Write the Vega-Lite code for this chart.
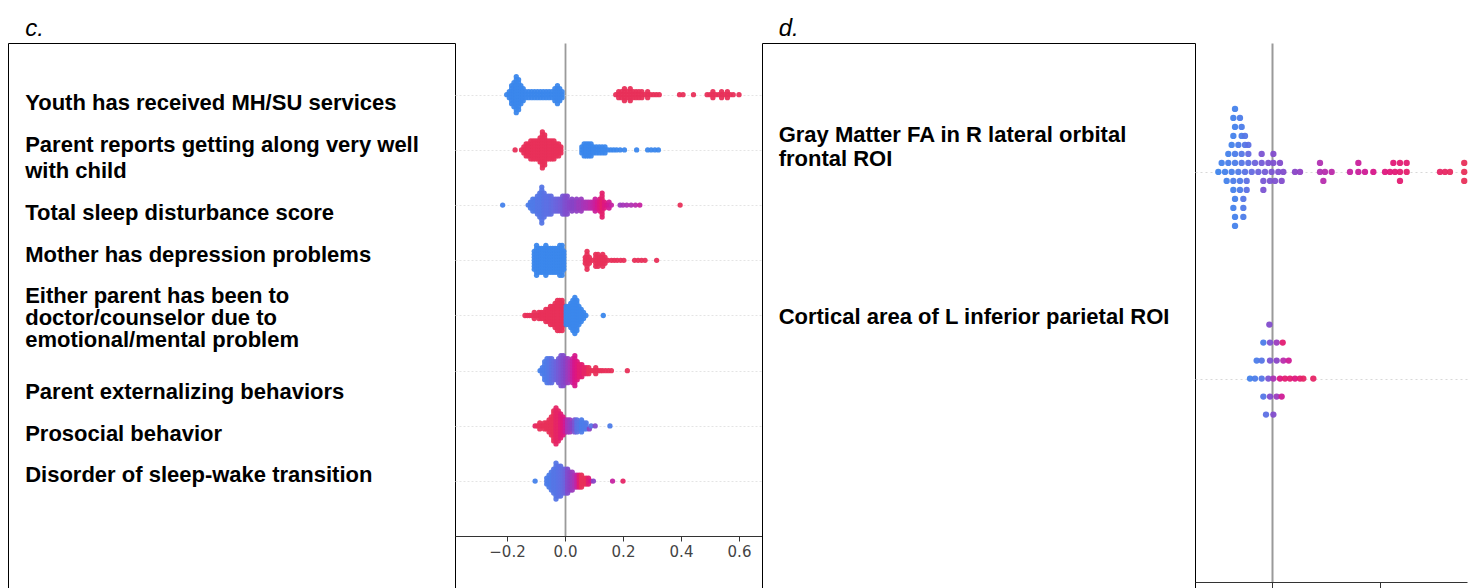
{
"$schema":"https://vega.github.io/schema/vega-lite/v6.json",
"background":"white",
"padding":{"left":8,"top":17,"right":0,"bottom":0},
"config":{"view":{"stroke":null},"font":"Liberation Sans"},
"spacing":0,
"hconcat":[
{
 "width":447,"height":547,
 "layer":[
  {"data":{"values":[
{"t":"Youth has received MH/SU services","u":0},
{"t":"Parent reports getting along very well","u":1.0},
{"t":"with child","u":1.619},
{"t":"Total sleep disturbance score","u":2.62},
{"t":"Mother has depression problems","u":3.62},
{"t":"Either parent has been to","u":4.6},
{"t":"doctor/counselor due to","u":5.12},
{"t":"emotional/mental problem","u":5.643},
{"t":"Parent externalizing behaviors","u":6.88},
{"t":"Prosocial behavior","u":7.88},
{"t":"Disorder of sleep-wake transition","u":8.86}
   ]},
   "mark":{"type":"text","align":"left","baseline":"middle","font":"Liberation Sans","fontWeight":"bold","fontSize":22,"color":"black"},
   "encoding":{
    "x":{"datum":0,"type":"quantitative","scale":{"domain":[-0.04,1],"nice":false,"zero":false},"axis":{"orient":"top","domainColor":"black","ticks":false,"labels":false,"grid":false,"title":null}},
    "y":{"field":"u","type":"quantitative","scale":{"domain":[-1.4286,11.595],"reverse":true,"nice":false,"zero":false},"axis":{"orient":"left","domainColor":"black","ticks":false,"labels":false,"grid":false,"title":null}},
    "text":{"field":"t"}}},
  {"data":{"values":[{"t":"c.","u":-1.595}]},
   "mark":{"type":"text","align":"left","baseline":"alphabetic","font":"Liberation Sans","fontStyle":"italic","fontSize":24,"color":"black"},
   "encoding":{
    "x":{"datum":0,"type":"quantitative"},
    "y":{"field":"u","type":"quantitative","axis":{"orient":"right","domainColor":"black","ticks":false,"labels":false,"grid":false,"title":null}},
    "text":{"field":"t"}}}
 ],
 "resolve":{"axis":{"y":"independent"}}
},
{
 "width":307,"height":493,
 "data":{"values":[
{"f":"c1","v":-0.201,"k":0,"c":0},
{"f":"c1","v":-0.192,"k":-1,"c":0},{"f":"c1","v":-0.192,"k":0,"c":0},{"f":"c1","v":-0.192,"k":1,"c":0},
{"f":"c1","v":-0.184,"k":-3,"c":0},{"f":"c1","v":-0.184,"k":-2,"c":0},{"f":"c1","v":-0.184,"k":-1,"c":0},{"f":"c1","v":-0.184,"k":0,"c":0},{"f":"c1","v":-0.184,"k":1,"c":0},{"f":"c1","v":-0.184,"k":2,"c":0},{"f":"c1","v":-0.184,"k":3,"c":0},
{"f":"c1","v":-0.176,"k":-4,"c":0},{"f":"c1","v":-0.176,"k":-3,"c":0},{"f":"c1","v":-0.176,"k":-2,"c":0},{"f":"c1","v":-0.176,"k":-1,"c":0},{"f":"c1","v":-0.176,"k":0,"c":0},{"f":"c1","v":-0.176,"k":1,"c":0},{"f":"c1","v":-0.176,"k":2,"c":0},{"f":"c1","v":-0.176,"k":3,"c":0},{"f":"c1","v":-0.176,"k":4,"c":0},
{"f":"c1","v":-0.168,"k":-6,"c":0},{"f":"c1","v":-0.168,"k":-5,"c":0},{"f":"c1","v":-0.168,"k":-4,"c":0},{"f":"c1","v":-0.168,"k":-3,"c":0},{"f":"c1","v":-0.168,"k":-2,"c":0},{"f":"c1","v":-0.168,"k":-1,"c":0},{"f":"c1","v":-0.168,"k":0,"c":0},{"f":"c1","v":-0.168,"k":1,"c":0},{"f":"c1","v":-0.168,"k":2,"c":0},{"f":"c1","v":-0.168,"k":3,"c":0},{"f":"c1","v":-0.168,"k":4,"c":0},{"f":"c1","v":-0.168,"k":5,"c":0},{"f":"c1","v":-0.168,"k":6,"c":0},
{"f":"c1","v":-0.160,"k":-5,"c":0},{"f":"c1","v":-0.160,"k":-4,"c":0},{"f":"c1","v":-0.160,"k":-3,"c":0},{"f":"c1","v":-0.160,"k":-2,"c":0},{"f":"c1","v":-0.160,"k":-1,"c":0},{"f":"c1","v":-0.160,"k":0,"c":0},{"f":"c1","v":-0.160,"k":1,"c":0},{"f":"c1","v":-0.160,"k":2,"c":0},{"f":"c1","v":-0.160,"k":3,"c":0},{"f":"c1","v":-0.160,"k":4,"c":0},{"f":"c1","v":-0.160,"k":5,"c":0},
{"f":"c1","v":-0.152,"k":-3,"c":0},{"f":"c1","v":-0.152,"k":-2,"c":0},{"f":"c1","v":-0.152,"k":-1,"c":0},{"f":"c1","v":-0.152,"k":0,"c":0},{"f":"c1","v":-0.152,"k":1,"c":0},{"f":"c1","v":-0.152,"k":2,"c":0},{"f":"c1","v":-0.152,"k":3,"c":0},
{"f":"c1","v":-0.144,"k":-2,"c":0},{"f":"c1","v":-0.144,"k":-1,"c":0},{"f":"c1","v":-0.144,"k":0,"c":0},{"f":"c1","v":-0.144,"k":1,"c":0},{"f":"c1","v":-0.144,"k":2,"c":0},
{"f":"c1","v":-0.135,"k":-1,"c":0},{"f":"c1","v":-0.135,"k":0,"c":0},{"f":"c1","v":-0.135,"k":1,"c":0},
{"f":"c1","v":-0.125,"k":-1,"c":0},{"f":"c1","v":-0.125,"k":0,"c":0},{"f":"c1","v":-0.125,"k":1,"c":0},
{"f":"c1","v":-0.115,"k":-1,"c":0},{"f":"c1","v":-0.115,"k":0,"c":0},{"f":"c1","v":-0.115,"k":1,"c":0},
{"f":"c1","v":-0.105,"k":-1,"c":0},{"f":"c1","v":-0.105,"k":0,"c":0},{"f":"c1","v":-0.105,"k":1,"c":0},
{"f":"c1","v":-0.095,"k":-1,"c":0},{"f":"c1","v":-0.095,"k":0,"c":0},{"f":"c1","v":-0.095,"k":1,"c":0},
{"f":"c1","v":-0.085,"k":-1,"c":0},{"f":"c1","v":-0.085,"k":0,"c":0},{"f":"c1","v":-0.085,"k":1,"c":0},
{"f":"c1","v":-0.075,"k":-1,"c":0},{"f":"c1","v":-0.075,"k":0,"c":0},{"f":"c1","v":-0.075,"k":1,"c":0},
{"f":"c1","v":-0.065,"k":-1,"c":0},{"f":"c1","v":-0.065,"k":0,"c":0},{"f":"c1","v":-0.065,"k":1,"c":0},
{"f":"c1","v":-0.055,"k":-1,"c":0},{"f":"c1","v":-0.055,"k":0,"c":0},{"f":"c1","v":-0.055,"k":1,"c":0},
{"f":"c1","v":-0.045,"k":-1,"c":0},{"f":"c1","v":-0.045,"k":0,"c":0},{"f":"c1","v":-0.045,"k":1,"c":0},
{"f":"c1","v":-0.035,"k":-2,"c":0},{"f":"c1","v":-0.035,"k":-1,"c":0},{"f":"c1","v":-0.035,"k":0,"c":0},{"f":"c1","v":-0.035,"k":1,"c":0},{"f":"c1","v":-0.035,"k":2,"c":0},
{"f":"c1","v":-0.026,"k":-3,"c":0},{"f":"c1","v":-0.026,"k":-2,"c":0},{"f":"c1","v":-0.026,"k":-1,"c":0},{"f":"c1","v":-0.026,"k":0,"c":0},{"f":"c1","v":-0.026,"k":1,"c":0},{"f":"c1","v":-0.026,"k":2,"c":0},{"f":"c1","v":-0.026,"k":3,"c":0},
{"f":"c1","v":-0.018,"k":-2,"c":0},{"f":"c1","v":-0.018,"k":-1,"c":0},{"f":"c1","v":-0.018,"k":0,"c":0},{"f":"c1","v":-0.018,"k":1,"c":0},{"f":"c1","v":-0.018,"k":2,"c":0},
{"f":"c1","v":-0.010,"k":-1,"c":0},{"f":"c1","v":-0.010,"k":0,"c":0},{"f":"c1","v":-0.010,"k":1,"c":0},
{"f":"c1","v":0.175,"k":0,"c":1},
{"f":"c1","v":0.185,"k":-1,"c":1},{"f":"c1","v":0.185,"k":0,"c":1},{"f":"c1","v":0.185,"k":1,"c":1},
{"f":"c1","v":0.195,"k":-1,"c":1},{"f":"c1","v":0.195,"k":0,"c":1},{"f":"c1","v":0.195,"k":1,"c":1},
{"f":"c1","v":0.205,"k":-2,"c":1},{"f":"c1","v":0.205,"k":-1,"c":1},{"f":"c1","v":0.205,"k":0,"c":1},{"f":"c1","v":0.205,"k":1,"c":1},{"f":"c1","v":0.205,"k":2,"c":1},
{"f":"c1","v":0.215,"k":-1,"c":1},{"f":"c1","v":0.215,"k":0,"c":1},{"f":"c1","v":0.215,"k":1,"c":1},
{"f":"c1","v":0.225,"k":-2,"c":1},{"f":"c1","v":0.225,"k":-1,"c":1},{"f":"c1","v":0.225,"k":0,"c":1},{"f":"c1","v":0.225,"k":1,"c":1},{"f":"c1","v":0.225,"k":2,"c":1},
{"f":"c1","v":0.235,"k":-1,"c":1},{"f":"c1","v":0.235,"k":0,"c":1},{"f":"c1","v":0.235,"k":1,"c":1},
{"f":"c1","v":0.245,"k":-1,"c":1},{"f":"c1","v":0.245,"k":0,"c":1},{"f":"c1","v":0.245,"k":1,"c":1},
{"f":"c1","v":0.255,"k":-1,"c":1},{"f":"c1","v":0.255,"k":0,"c":1},{"f":"c1","v":0.255,"k":1,"c":1},
{"f":"c1","v":0.265,"k":-1,"c":1},{"f":"c1","v":0.265,"k":0,"c":1},{"f":"c1","v":0.265,"k":1,"c":1},
{"f":"c1","v":0.275,"k":0,"c":1},
{"f":"c1","v":0.285,"k":-1,"c":1},{"f":"c1","v":0.285,"k":0,"c":1},{"f":"c1","v":0.285,"k":1,"c":1},
{"f":"c1","v":0.295,"k":0,"c":1},{"f":"c1","v":0.305,"k":0,"c":1},{"f":"c1","v":0.315,"k":0,"c":1},{"f":"c1","v":0.325,"k":0,"c":1},
{"f":"c1","v":0.395,"k":0,"c":1},{"f":"c1","v":0.407,"k":0,"c":1},{"f":"c1","v":0.443,"k":0,"c":1},
{"f":"c1","v":0.490,"k":0,"c":1},{"f":"c1","v":0.500,"k":0,"c":1},
{"f":"c1","v":0.510,"k":-1,"c":1},{"f":"c1","v":0.510,"k":0,"c":1},{"f":"c1","v":0.510,"k":1,"c":1},
{"f":"c1","v":0.520,"k":0,"c":1},{"f":"c1","v":0.530,"k":0,"c":1},
{"f":"c1","v":0.540,"k":-1,"c":1},{"f":"c1","v":0.540,"k":0,"c":1},{"f":"c1","v":0.540,"k":1,"c":1},
{"f":"c1","v":0.550,"k":0,"c":1},
{"f":"c1","v":0.560,"k":-1,"c":1},{"f":"c1","v":0.560,"k":0,"c":1},{"f":"c1","v":0.560,"k":1,"c":1},
{"f":"c1","v":0.570,"k":0,"c":1},{"f":"c1","v":0.580,"k":0,"c":1},{"f":"c1","v":0.600,"k":0,"c":1},
{"f":"c2","v":-0.172,"k":0,"c":1},{"f":"c2","v":-0.150,"k":0,"c":1},
{"f":"c2","v":-0.142,"k":-1,"c":1},{"f":"c2","v":-0.142,"k":0,"c":1},{"f":"c2","v":-0.142,"k":1,"c":1},
{"f":"c2","v":-0.134,"k":-2,"c":1},{"f":"c2","v":-0.134,"k":-1,"c":1},{"f":"c2","v":-0.134,"k":0,"c":1},{"f":"c2","v":-0.134,"k":1,"c":1},{"f":"c2","v":-0.134,"k":2,"c":1},
{"f":"c2","v":-0.126,"k":-2,"c":1},{"f":"c2","v":-0.126,"k":-1,"c":1},{"f":"c2","v":-0.126,"k":0,"c":1},{"f":"c2","v":-0.126,"k":1,"c":1},{"f":"c2","v":-0.126,"k":2,"c":1},
{"f":"c2","v":-0.118,"k":-3,"c":1},{"f":"c2","v":-0.118,"k":-2,"c":1},{"f":"c2","v":-0.118,"k":-1,"c":1},{"f":"c2","v":-0.118,"k":0,"c":1},{"f":"c2","v":-0.118,"k":1,"c":1},{"f":"c2","v":-0.118,"k":2,"c":1},{"f":"c2","v":-0.118,"k":3,"c":1},
{"f":"c2","v":-0.110,"k":-3,"c":1},{"f":"c2","v":-0.110,"k":-2,"c":1},{"f":"c2","v":-0.110,"k":-1,"c":1},{"f":"c2","v":-0.110,"k":0,"c":1},{"f":"c2","v":-0.110,"k":1,"c":1},{"f":"c2","v":-0.110,"k":2,"c":1},{"f":"c2","v":-0.110,"k":3,"c":1},
{"f":"c2","v":-0.102,"k":-3,"c":1},{"f":"c2","v":-0.102,"k":-2,"c":1},{"f":"c2","v":-0.102,"k":-1,"c":1},{"f":"c2","v":-0.102,"k":0,"c":1},{"f":"c2","v":-0.102,"k":1,"c":1},{"f":"c2","v":-0.102,"k":2,"c":1},{"f":"c2","v":-0.102,"k":3,"c":1},
{"f":"c2","v":-0.094,"k":-3,"c":1},{"f":"c2","v":-0.094,"k":-2,"c":1},{"f":"c2","v":-0.094,"k":-1,"c":1},{"f":"c2","v":-0.094,"k":0,"c":1},{"f":"c2","v":-0.094,"k":1,"c":1},{"f":"c2","v":-0.094,"k":2,"c":1},{"f":"c2","v":-0.094,"k":3,"c":1},
{"f":"c2","v":-0.086,"k":-4,"c":1},{"f":"c2","v":-0.086,"k":-3,"c":1},{"f":"c2","v":-0.086,"k":-2,"c":1},{"f":"c2","v":-0.086,"k":-1,"c":1},{"f":"c2","v":-0.086,"k":0,"c":1},{"f":"c2","v":-0.086,"k":1,"c":1},{"f":"c2","v":-0.086,"k":2,"c":1},{"f":"c2","v":-0.086,"k":3,"c":1},{"f":"c2","v":-0.086,"k":4,"c":1},
{"f":"c2","v":-0.078,"k":-6,"c":1},{"f":"c2","v":-0.078,"k":-5,"c":1},{"f":"c2","v":-0.078,"k":-4,"c":1},{"f":"c2","v":-0.078,"k":-3,"c":1},{"f":"c2","v":-0.078,"k":-2,"c":1},{"f":"c2","v":-0.078,"k":-1,"c":1},{"f":"c2","v":-0.078,"k":0,"c":1},{"f":"c2","v":-0.078,"k":1,"c":1},{"f":"c2","v":-0.078,"k":2,"c":1},{"f":"c2","v":-0.078,"k":3,"c":1},{"f":"c2","v":-0.078,"k":4,"c":1},{"f":"c2","v":-0.078,"k":5,"c":1},{"f":"c2","v":-0.078,"k":6,"c":1},
{"f":"c2","v":-0.070,"k":-5,"c":1},{"f":"c2","v":-0.070,"k":-4,"c":1},{"f":"c2","v":-0.070,"k":-3,"c":1},{"f":"c2","v":-0.070,"k":-2,"c":1},{"f":"c2","v":-0.070,"k":-1,"c":1},{"f":"c2","v":-0.070,"k":0,"c":1},{"f":"c2","v":-0.070,"k":1,"c":1},{"f":"c2","v":-0.070,"k":2,"c":1},{"f":"c2","v":-0.070,"k":3,"c":1},{"f":"c2","v":-0.070,"k":4,"c":1},{"f":"c2","v":-0.070,"k":5,"c":1},
{"f":"c2","v":-0.062,"k":-3,"c":1},{"f":"c2","v":-0.062,"k":-2,"c":1},{"f":"c2","v":-0.062,"k":-1,"c":1},{"f":"c2","v":-0.062,"k":0,"c":1},{"f":"c2","v":-0.062,"k":1,"c":1},{"f":"c2","v":-0.062,"k":2,"c":1},{"f":"c2","v":-0.062,"k":3,"c":1},
{"f":"c2","v":-0.054,"k":-3,"c":1},{"f":"c2","v":-0.054,"k":-2,"c":1},{"f":"c2","v":-0.054,"k":-1,"c":1},{"f":"c2","v":-0.054,"k":0,"c":1},{"f":"c2","v":-0.054,"k":1,"c":1},{"f":"c2","v":-0.054,"k":2,"c":1},{"f":"c2","v":-0.054,"k":3,"c":1},
{"f":"c2","v":-0.046,"k":-3,"c":1},{"f":"c2","v":-0.046,"k":-2,"c":1},{"f":"c2","v":-0.046,"k":-1,"c":1},{"f":"c2","v":-0.046,"k":0,"c":1},{"f":"c2","v":-0.046,"k":1,"c":1},{"f":"c2","v":-0.046,"k":2,"c":1},{"f":"c2","v":-0.046,"k":3,"c":1},
{"f":"c2","v":-0.038,"k":-3,"c":1},{"f":"c2","v":-0.038,"k":-2,"c":1},{"f":"c2","v":-0.038,"k":-1,"c":1},{"f":"c2","v":-0.038,"k":0,"c":1},{"f":"c2","v":-0.038,"k":1,"c":1},{"f":"c2","v":-0.038,"k":2,"c":1},{"f":"c2","v":-0.038,"k":3,"c":1},
{"f":"c2","v":-0.030,"k":-2,"c":1},{"f":"c2","v":-0.030,"k":-1,"c":1},{"f":"c2","v":-0.030,"k":0,"c":1},{"f":"c2","v":-0.030,"k":1,"c":1},{"f":"c2","v":-0.030,"k":2,"c":1},
{"f":"c2","v":-0.022,"k":-2,"c":1},{"f":"c2","v":-0.022,"k":-1,"c":1},{"f":"c2","v":-0.022,"k":0,"c":1},{"f":"c2","v":-0.022,"k":1,"c":1},{"f":"c2","v":-0.022,"k":2,"c":1},
{"f":"c2","v":-0.014,"k":-1,"c":1},{"f":"c2","v":-0.014,"k":0,"c":1},{"f":"c2","v":-0.014,"k":1,"c":1},
{"f":"c2","v":0.058,"k":-1,"c":0},{"f":"c2","v":0.058,"k":0,"c":0},{"f":"c2","v":0.058,"k":1,"c":0},
{"f":"c2","v":0.066,"k":-2,"c":0},{"f":"c2","v":0.066,"k":-1,"c":0},{"f":"c2","v":0.066,"k":0,"c":0},{"f":"c2","v":0.066,"k":1,"c":0},{"f":"c2","v":0.066,"k":2,"c":0},
{"f":"c2","v":0.074,"k":-2,"c":0},{"f":"c2","v":0.074,"k":-1,"c":0},{"f":"c2","v":0.074,"k":0,"c":0},{"f":"c2","v":0.074,"k":1,"c":0},{"f":"c2","v":0.074,"k":2,"c":0},
{"f":"c2","v":0.082,"k":-2,"c":0},{"f":"c2","v":0.082,"k":-1,"c":0},{"f":"c2","v":0.082,"k":0,"c":0},{"f":"c2","v":0.082,"k":1,"c":0},{"f":"c2","v":0.082,"k":2,"c":0},
{"f":"c2","v":0.090,"k":-2,"c":0},{"f":"c2","v":0.090,"k":-1,"c":0},{"f":"c2","v":0.090,"k":0,"c":0},{"f":"c2","v":0.090,"k":1,"c":0},{"f":"c2","v":0.090,"k":2,"c":0},
{"f":"c2","v":0.098,"k":-1,"c":0},{"f":"c2","v":0.098,"k":0,"c":0},{"f":"c2","v":0.098,"k":1,"c":0},
{"f":"c2","v":0.108,"k":-1,"c":0},{"f":"c2","v":0.108,"k":0,"c":0},{"f":"c2","v":0.108,"k":1,"c":0},
{"f":"c2","v":0.118,"k":-1,"c":0},{"f":"c2","v":0.118,"k":0,"c":0},{"f":"c2","v":0.118,"k":1,"c":0},
{"f":"c2","v":0.128,"k":-1,"c":0},{"f":"c2","v":0.128,"k":0,"c":0},{"f":"c2","v":0.128,"k":1,"c":0},
{"f":"c2","v":0.138,"k":-1,"c":0},{"f":"c2","v":0.138,"k":0,"c":0},{"f":"c2","v":0.138,"k":1,"c":0},
{"f":"c2","v":0.148,"k":0,"c":0},{"f":"c2","v":0.158,"k":0,"c":0},{"f":"c2","v":0.168,"k":0,"c":0},{"f":"c2","v":0.178,"k":0,"c":0},{"f":"c2","v":0.190,"k":0,"c":0},{"f":"c2","v":0.205,"k":0,"c":0},
{"f":"c2","v":0.247,"k":0,"c":0},{"f":"c2","v":0.285,"k":0,"c":0},{"f":"c2","v":0.297,"k":0,"c":0},{"f":"c2","v":0.310,"k":0,"c":0},{"f":"c2","v":0.322,"k":0,"c":0},
{"f":"c3","v":-0.215,"k":0,"c":0.05},
{"f":"c3","v":-0.127,"k":0,"c":0.1},
{"f":"c3","v":-0.119,"k":-1,"c":0.1},{"f":"c3","v":-0.119,"k":0,"c":0.1},{"f":"c3","v":-0.119,"k":1,"c":0.1},
{"f":"c3","v":-0.111,"k":-2,"c":0.12},{"f":"c3","v":-0.111,"k":-1,"c":0.12},{"f":"c3","v":-0.111,"k":0,"c":0.12},{"f":"c3","v":-0.111,"k":1,"c":0.12},{"f":"c3","v":-0.111,"k":2,"c":0.12},
{"f":"c3","v":-0.103,"k":-2,"c":0.12},{"f":"c3","v":-0.103,"k":-1,"c":0.12},{"f":"c3","v":-0.103,"k":0,"c":0.12},{"f":"c3","v":-0.103,"k":1,"c":0.12},{"f":"c3","v":-0.103,"k":2,"c":0.12},
{"f":"c3","v":-0.095,"k":-3,"c":0.15},{"f":"c3","v":-0.095,"k":-2,"c":0.15},{"f":"c3","v":-0.095,"k":-1,"c":0.15},{"f":"c3","v":-0.095,"k":0,"c":0.15},{"f":"c3","v":-0.095,"k":1,"c":0.15},{"f":"c3","v":-0.095,"k":2,"c":0.15},{"f":"c3","v":-0.095,"k":3,"c":0.15},
{"f":"c3","v":-0.087,"k":-4,"c":0.15},{"f":"c3","v":-0.087,"k":-3,"c":0.15},{"f":"c3","v":-0.087,"k":-2,"c":0.15},{"f":"c3","v":-0.087,"k":-1,"c":0.15},{"f":"c3","v":-0.087,"k":0,"c":0.15},{"f":"c3","v":-0.087,"k":1,"c":0.15},{"f":"c3","v":-0.087,"k":2,"c":0.15},{"f":"c3","v":-0.087,"k":3,"c":0.15},{"f":"c3","v":-0.087,"k":4,"c":0.15},
{"f":"c3","v":-0.080,"k":-6,"c":0.15},{"f":"c3","v":-0.080,"k":-5,"c":0.15},{"f":"c3","v":-0.080,"k":-4,"c":0.15},{"f":"c3","v":-0.080,"k":-3,"c":0.15},{"f":"c3","v":-0.080,"k":-2,"c":0.15},{"f":"c3","v":-0.080,"k":-1,"c":0.15},{"f":"c3","v":-0.080,"k":0,"c":0.15},{"f":"c3","v":-0.080,"k":1,"c":0.15},{"f":"c3","v":-0.080,"k":2,"c":0.15},{"f":"c3","v":-0.080,"k":3,"c":0.15},{"f":"c3","v":-0.080,"k":4,"c":0.15},{"f":"c3","v":-0.080,"k":5,"c":0.15},{"f":"c3","v":-0.080,"k":6,"c":0.15},
{"f":"c3","v":-0.072,"k":-4,"c":0.18},{"f":"c3","v":-0.072,"k":-3,"c":0.18},{"f":"c3","v":-0.072,"k":-2,"c":0.18},{"f":"c3","v":-0.072,"k":-1,"c":0.18},{"f":"c3","v":-0.072,"k":0,"c":0.18},{"f":"c3","v":-0.072,"k":1,"c":0.18},{"f":"c3","v":-0.072,"k":2,"c":0.18},{"f":"c3","v":-0.072,"k":3,"c":0.18},{"f":"c3","v":-0.072,"k":4,"c":0.18},
{"f":"c3","v":-0.064,"k":-3,"c":0.2},{"f":"c3","v":-0.064,"k":-2,"c":0.2},{"f":"c3","v":-0.064,"k":-1,"c":0.2},{"f":"c3","v":-0.064,"k":0,"c":0.2},{"f":"c3","v":-0.064,"k":1,"c":0.2},{"f":"c3","v":-0.064,"k":2,"c":0.2},{"f":"c3","v":-0.064,"k":3,"c":0.2},
{"f":"c3","v":-0.056,"k":-3,"c":0.2},{"f":"c3","v":-0.056,"k":-2,"c":0.2},{"f":"c3","v":-0.056,"k":-1,"c":0.2},{"f":"c3","v":-0.056,"k":0,"c":0.2},{"f":"c3","v":-0.056,"k":1,"c":0.2},{"f":"c3","v":-0.056,"k":2,"c":0.2},{"f":"c3","v":-0.056,"k":3,"c":0.2},
{"f":"c3","v":-0.048,"k":-3,"c":0.22},{"f":"c3","v":-0.048,"k":-2,"c":0.22},{"f":"c3","v":-0.048,"k":-1,"c":0.22},{"f":"c3","v":-0.048,"k":0,"c":0.22},{"f":"c3","v":-0.048,"k":1,"c":0.22},{"f":"c3","v":-0.048,"k":2,"c":0.22},{"f":"c3","v":-0.048,"k":3,"c":0.22},
{"f":"c3","v":-0.040,"k":-2,"c":0.25},{"f":"c3","v":-0.040,"k":-1,"c":0.25},{"f":"c3","v":-0.040,"k":0,"c":0.25},{"f":"c3","v":-0.040,"k":1,"c":0.25},{"f":"c3","v":-0.040,"k":2,"c":0.25},
{"f":"c3","v":-0.032,"k":-2,"c":0.28},{"f":"c3","v":-0.032,"k":-1,"c":0.28},{"f":"c3","v":-0.032,"k":0,"c":0.28},{"f":"c3","v":-0.032,"k":1,"c":0.28},{"f":"c3","v":-0.032,"k":2,"c":0.28},
{"f":"c3","v":-0.024,"k":-2,"c":0.3},{"f":"c3","v":-0.024,"k":-1,"c":0.3},{"f":"c3","v":-0.024,"k":0,"c":0.3},{"f":"c3","v":-0.024,"k":1,"c":0.3},{"f":"c3","v":-0.024,"k":2,"c":0.3},
{"f":"c3","v":-0.016,"k":-2,"c":0.33},{"f":"c3","v":-0.016,"k":-1,"c":0.33},{"f":"c3","v":-0.016,"k":0,"c":0.33},{"f":"c3","v":-0.016,"k":1,"c":0.33},{"f":"c3","v":-0.016,"k":2,"c":0.33},
{"f":"c3","v":-0.008,"k":-3,"c":0.36},{"f":"c3","v":-0.008,"k":-2,"c":0.36},{"f":"c3","v":-0.008,"k":-1,"c":0.36},{"f":"c3","v":-0.008,"k":0,"c":0.36},{"f":"c3","v":-0.008,"k":1,"c":0.36},{"f":"c3","v":-0.008,"k":2,"c":0.36},{"f":"c3","v":-0.008,"k":3,"c":0.36},
{"f":"c3","v":0.000,"k":-3,"c":0.42},{"f":"c3","v":0.000,"k":-2,"c":0.42},{"f":"c3","v":0.000,"k":-1,"c":0.42},{"f":"c3","v":0.000,"k":0,"c":0.42},{"f":"c3","v":0.000,"k":1,"c":0.42},{"f":"c3","v":0.000,"k":2,"c":0.42},{"f":"c3","v":0.000,"k":3,"c":0.42},
{"f":"c3","v":0.008,"k":-3,"c":0.45},{"f":"c3","v":0.008,"k":-2,"c":0.45},{"f":"c3","v":0.008,"k":-1,"c":0.45},{"f":"c3","v":0.008,"k":0,"c":0.45},{"f":"c3","v":0.008,"k":1,"c":0.45},{"f":"c3","v":0.008,"k":2,"c":0.45},{"f":"c3","v":0.008,"k":3,"c":0.45},
{"f":"c3","v":0.016,"k":-1,"c":0.48},{"f":"c3","v":0.016,"k":0,"c":0.48},{"f":"c3","v":0.016,"k":1,"c":0.48},
{"f":"c3","v":0.024,"k":-2,"c":0.5},{"f":"c3","v":0.024,"k":-1,"c":0.5},{"f":"c3","v":0.024,"k":0,"c":0.5},{"f":"c3","v":0.024,"k":1,"c":0.5},{"f":"c3","v":0.024,"k":2,"c":0.5},
{"f":"c3","v":0.032,"k":-1,"c":0.5},{"f":"c3","v":0.032,"k":0,"c":0.5},{"f":"c3","v":0.032,"k":1,"c":0.5},
{"f":"c3","v":0.040,"k":-2,"c":0.52},{"f":"c3","v":0.040,"k":-1,"c":0.52},{"f":"c3","v":0.040,"k":0,"c":0.52},{"f":"c3","v":0.040,"k":1,"c":0.52},{"f":"c3","v":0.040,"k":2,"c":0.52},
{"f":"c3","v":0.048,"k":-1,"c":0.55},{"f":"c3","v":0.048,"k":0,"c":0.55},{"f":"c3","v":0.048,"k":1,"c":0.55},
{"f":"c3","v":0.056,"k":-2,"c":0.55},{"f":"c3","v":0.056,"k":-1,"c":0.55},{"f":"c3","v":0.056,"k":0,"c":0.55},{"f":"c3","v":0.056,"k":1,"c":0.55},{"f":"c3","v":0.056,"k":2,"c":0.55},
{"f":"c3","v":0.064,"k":-1,"c":0.58},{"f":"c3","v":0.064,"k":0,"c":0.58},{"f":"c3","v":0.064,"k":1,"c":0.58},
{"f":"c3","v":0.072,"k":-1,"c":0.6},{"f":"c3","v":0.072,"k":0,"c":0.6},{"f":"c3","v":0.072,"k":1,"c":0.6},
{"f":"c3","v":0.080,"k":-1,"c":0.62},{"f":"c3","v":0.080,"k":0,"c":0.62},{"f":"c3","v":0.080,"k":1,"c":0.62},
{"f":"c3","v":0.088,"k":-1,"c":0.65},{"f":"c3","v":0.088,"k":0,"c":0.65},{"f":"c3","v":0.088,"k":1,"c":0.65},
{"f":"c3","v":0.096,"k":-1,"c":0.68},{"f":"c3","v":0.096,"k":0,"c":0.68},{"f":"c3","v":0.096,"k":1,"c":0.68},
{"f":"c3","v":0.104,"k":-2,"c":0.72},{"f":"c3","v":0.104,"k":-1,"c":0.72},{"f":"c3","v":0.104,"k":0,"c":0.72},{"f":"c3","v":0.104,"k":1,"c":0.72},{"f":"c3","v":0.104,"k":2,"c":0.72},
{"f":"c3","v":0.112,"k":-1,"c":0.78},{"f":"c3","v":0.112,"k":0,"c":0.78},{"f":"c3","v":0.112,"k":1,"c":0.78},
{"f":"c3","v":0.120,"k":-2,"c":0.85},{"f":"c3","v":0.120,"k":-1,"c":0.85},{"f":"c3","v":0.120,"k":0,"c":0.85},{"f":"c3","v":0.120,"k":1,"c":0.85},{"f":"c3","v":0.120,"k":2,"c":0.85},
{"f":"c3","v":0.128,"k":-4,"c":0.92},{"f":"c3","v":0.128,"k":-3,"c":0.92},{"f":"c3","v":0.128,"k":-2,"c":0.92},{"f":"c3","v":0.128,"k":-1,"c":0.92},{"f":"c3","v":0.128,"k":0,"c":0.92},{"f":"c3","v":0.128,"k":1,"c":0.92},{"f":"c3","v":0.128,"k":2,"c":0.92},{"f":"c3","v":0.128,"k":3,"c":0.92},{"f":"c3","v":0.128,"k":4,"c":0.92},
{"f":"c3","v":0.136,"k":-1,"c":0.85},{"f":"c3","v":0.136,"k":0,"c":0.85},{"f":"c3","v":0.136,"k":1,"c":0.85},
{"f":"c3","v":0.144,"k":0,"c":0.8},
{"f":"c3","v":0.152,"k":-1,"c":0.75},{"f":"c3","v":0.152,"k":0,"c":0.75},{"f":"c3","v":0.152,"k":1,"c":0.75},
{"f":"c3","v":0.160,"k":0,"c":0.7},
{"f":"c3","v":0.190,"k":0,"c":0.55},{"f":"c3","v":0.200,"k":0,"c":0.58},{"f":"c3","v":0.213,"k":0,"c":0.6},{"f":"c3","v":0.228,"k":0,"c":0.62},{"f":"c3","v":0.243,"k":0,"c":0.65},{"f":"c3","v":0.258,"k":0,"c":0.7},
{"f":"c3","v":0.397,"k":0,"c":1},
{"f":"c4","v":-0.106,"k":-3,"c":0},{"f":"c4","v":-0.106,"k":-2,"c":0},{"f":"c4","v":-0.106,"k":-1,"c":0},{"f":"c4","v":-0.106,"k":0,"c":0},{"f":"c4","v":-0.106,"k":1,"c":0},{"f":"c4","v":-0.106,"k":2,"c":0},{"f":"c4","v":-0.106,"k":3,"c":0},
{"f":"c4","v":-0.098,"k":-5,"c":0},{"f":"c4","v":-0.098,"k":-4,"c":0},{"f":"c4","v":-0.098,"k":-3,"c":0},{"f":"c4","v":-0.098,"k":-2,"c":0},{"f":"c4","v":-0.098,"k":-1,"c":0},{"f":"c4","v":-0.098,"k":0,"c":0},{"f":"c4","v":-0.098,"k":1,"c":0},{"f":"c4","v":-0.098,"k":2,"c":0},{"f":"c4","v":-0.098,"k":3,"c":0},{"f":"c4","v":-0.098,"k":4,"c":0},{"f":"c4","v":-0.098,"k":5,"c":0},
{"f":"c4","v":-0.090,"k":-4,"c":0},{"f":"c4","v":-0.090,"k":-3,"c":0},{"f":"c4","v":-0.090,"k":-2,"c":0},{"f":"c4","v":-0.090,"k":-1,"c":0},{"f":"c4","v":-0.090,"k":0,"c":0},{"f":"c4","v":-0.090,"k":1,"c":0},{"f":"c4","v":-0.090,"k":2,"c":0},{"f":"c4","v":-0.090,"k":3,"c":0},{"f":"c4","v":-0.090,"k":4,"c":0},
{"f":"c4","v":-0.082,"k":-4,"c":0},{"f":"c4","v":-0.082,"k":-3,"c":0},{"f":"c4","v":-0.082,"k":-2,"c":0},{"f":"c4","v":-0.082,"k":-1,"c":0},{"f":"c4","v":-0.082,"k":0,"c":0},{"f":"c4","v":-0.082,"k":1,"c":0},{"f":"c4","v":-0.082,"k":2,"c":0},{"f":"c4","v":-0.082,"k":3,"c":0},{"f":"c4","v":-0.082,"k":4,"c":0},
{"f":"c4","v":-0.074,"k":-4,"c":0},{"f":"c4","v":-0.074,"k":-3,"c":0},{"f":"c4","v":-0.074,"k":-2,"c":0},{"f":"c4","v":-0.074,"k":-1,"c":0},{"f":"c4","v":-0.074,"k":0,"c":0},{"f":"c4","v":-0.074,"k":1,"c":0},{"f":"c4","v":-0.074,"k":2,"c":0},{"f":"c4","v":-0.074,"k":3,"c":0},{"f":"c4","v":-0.074,"k":4,"c":0},
{"f":"c4","v":-0.066,"k":-5,"c":0},{"f":"c4","v":-0.066,"k":-4,"c":0},{"f":"c4","v":-0.066,"k":-3,"c":0},{"f":"c4","v":-0.066,"k":-2,"c":0},{"f":"c4","v":-0.066,"k":-1,"c":0},{"f":"c4","v":-0.066,"k":0,"c":0},{"f":"c4","v":-0.066,"k":1,"c":0},{"f":"c4","v":-0.066,"k":2,"c":0},{"f":"c4","v":-0.066,"k":3,"c":0},{"f":"c4","v":-0.066,"k":4,"c":0},{"f":"c4","v":-0.066,"k":5,"c":0},
{"f":"c4","v":-0.058,"k":-4,"c":0},{"f":"c4","v":-0.058,"k":-3,"c":0},{"f":"c4","v":-0.058,"k":-2,"c":0},{"f":"c4","v":-0.058,"k":-1,"c":0},{"f":"c4","v":-0.058,"k":0,"c":0},{"f":"c4","v":-0.058,"k":1,"c":0},{"f":"c4","v":-0.058,"k":2,"c":0},{"f":"c4","v":-0.058,"k":3,"c":0},{"f":"c4","v":-0.058,"k":4,"c":0},
{"f":"c4","v":-0.050,"k":-4,"c":0},{"f":"c4","v":-0.050,"k":-3,"c":0},{"f":"c4","v":-0.050,"k":-2,"c":0},{"f":"c4","v":-0.050,"k":-1,"c":0},{"f":"c4","v":-0.050,"k":0,"c":0},{"f":"c4","v":-0.050,"k":1,"c":0},{"f":"c4","v":-0.050,"k":2,"c":0},{"f":"c4","v":-0.050,"k":3,"c":0},{"f":"c4","v":-0.050,"k":4,"c":0},
{"f":"c4","v":-0.042,"k":-4,"c":0},{"f":"c4","v":-0.042,"k":-3,"c":0},{"f":"c4","v":-0.042,"k":-2,"c":0},{"f":"c4","v":-0.042,"k":-1,"c":0},{"f":"c4","v":-0.042,"k":0,"c":0},{"f":"c4","v":-0.042,"k":1,"c":0},{"f":"c4","v":-0.042,"k":2,"c":0},{"f":"c4","v":-0.042,"k":3,"c":0},{"f":"c4","v":-0.042,"k":4,"c":0},
{"f":"c4","v":-0.034,"k":-4,"c":0},{"f":"c4","v":-0.034,"k":-3,"c":0},{"f":"c4","v":-0.034,"k":-2,"c":0},{"f":"c4","v":-0.034,"k":-1,"c":0},{"f":"c4","v":-0.034,"k":0,"c":0},{"f":"c4","v":-0.034,"k":1,"c":0},{"f":"c4","v":-0.034,"k":2,"c":0},{"f":"c4","v":-0.034,"k":3,"c":0},{"f":"c4","v":-0.034,"k":4,"c":0},
{"f":"c4","v":-0.026,"k":-4,"c":0},{"f":"c4","v":-0.026,"k":-3,"c":0},{"f":"c4","v":-0.026,"k":-2,"c":0},{"f":"c4","v":-0.026,"k":-1,"c":0},{"f":"c4","v":-0.026,"k":0,"c":0},{"f":"c4","v":-0.026,"k":1,"c":0},{"f":"c4","v":-0.026,"k":2,"c":0},{"f":"c4","v":-0.026,"k":3,"c":0},{"f":"c4","v":-0.026,"k":4,"c":0},
{"f":"c4","v":-0.018,"k":-5,"c":0},{"f":"c4","v":-0.018,"k":-4,"c":0},{"f":"c4","v":-0.018,"k":-3,"c":0},{"f":"c4","v":-0.018,"k":-2,"c":0},{"f":"c4","v":-0.018,"k":-1,"c":0},{"f":"c4","v":-0.018,"k":0,"c":0},{"f":"c4","v":-0.018,"k":1,"c":0},{"f":"c4","v":-0.018,"k":2,"c":0},{"f":"c4","v":-0.018,"k":3,"c":0},{"f":"c4","v":-0.018,"k":4,"c":0},{"f":"c4","v":-0.018,"k":5,"c":0},
{"f":"c4","v":-0.010,"k":-5,"c":0},{"f":"c4","v":-0.010,"k":-4,"c":0},{"f":"c4","v":-0.010,"k":-3,"c":0},{"f":"c4","v":-0.010,"k":-2,"c":0},{"f":"c4","v":-0.010,"k":-1,"c":0},{"f":"c4","v":-0.010,"k":0,"c":0},{"f":"c4","v":-0.010,"k":1,"c":0},{"f":"c4","v":-0.010,"k":2,"c":0},{"f":"c4","v":-0.010,"k":3,"c":0},{"f":"c4","v":-0.010,"k":4,"c":0},{"f":"c4","v":-0.010,"k":5,"c":0},
{"f":"c4","v":-0.004,"k":-3,"c":0},{"f":"c4","v":-0.004,"k":-2,"c":0},{"f":"c4","v":-0.004,"k":-1,"c":0},{"f":"c4","v":-0.004,"k":0,"c":0},{"f":"c4","v":-0.004,"k":1,"c":0},{"f":"c4","v":-0.004,"k":2,"c":0},{"f":"c4","v":-0.004,"k":3,"c":0},
{"f":"c4","v":0.070,"k":-1,"c":1},{"f":"c4","v":0.070,"k":0,"c":1},{"f":"c4","v":0.070,"k":1,"c":1},
{"f":"c4","v":0.076,"k":-3,"c":1},{"f":"c4","v":0.076,"k":-2,"c":1},{"f":"c4","v":0.076,"k":-1,"c":1},{"f":"c4","v":0.076,"k":0,"c":1},{"f":"c4","v":0.076,"k":1,"c":1},{"f":"c4","v":0.076,"k":2,"c":1},{"f":"c4","v":0.076,"k":3,"c":1},
{"f":"c4","v":0.084,"k":-1,"c":1},{"f":"c4","v":0.084,"k":0,"c":1},{"f":"c4","v":0.084,"k":1,"c":1},
{"f":"c4","v":0.094,"k":0,"c":1},
{"f":"c4","v":0.106,"k":-2,"c":1},{"f":"c4","v":0.106,"k":-1,"c":1},{"f":"c4","v":0.106,"k":0,"c":1},{"f":"c4","v":0.106,"k":1,"c":1},{"f":"c4","v":0.106,"k":2,"c":1},
{"f":"c4","v":0.114,"k":-2,"c":1},{"f":"c4","v":0.114,"k":-1,"c":1},{"f":"c4","v":0.114,"k":0,"c":1},{"f":"c4","v":0.114,"k":1,"c":1},{"f":"c4","v":0.114,"k":2,"c":1},
{"f":"c4","v":0.122,"k":-1,"c":1},{"f":"c4","v":0.122,"k":0,"c":1},{"f":"c4","v":0.122,"k":1,"c":1},
{"f":"c4","v":0.130,"k":-2,"c":1},{"f":"c4","v":0.130,"k":-1,"c":1},{"f":"c4","v":0.130,"k":0,"c":1},{"f":"c4","v":0.130,"k":1,"c":1},{"f":"c4","v":0.130,"k":2,"c":1},
{"f":"c4","v":0.138,"k":-1,"c":1},{"f":"c4","v":0.138,"k":0,"c":1},{"f":"c4","v":0.138,"k":1,"c":1},
{"f":"c4","v":0.148,"k":0,"c":1},{"f":"c4","v":0.160,"k":0,"c":1},{"f":"c4","v":0.170,"k":0,"c":1},{"f":"c4","v":0.180,"k":0,"c":1},{"f":"c4","v":0.192,"k":0,"c":1},{"f":"c4","v":0.203,"k":0,"c":1},
{"f":"c4","v":0.240,"k":0,"c":1},{"f":"c4","v":0.252,"k":0,"c":1},{"f":"c4","v":0.264,"k":0,"c":1},{"f":"c4","v":0.276,"k":0,"c":1},{"f":"c4","v":0.316,"k":0,"c":1},
{"f":"c5","v":-0.138,"k":0,"c":1},{"f":"c5","v":-0.130,"k":0,"c":1},{"f":"c5","v":-0.122,"k":0,"c":1},{"f":"c5","v":-0.114,"k":0,"c":1},
{"f":"c5","v":-0.106,"k":-1,"c":1},{"f":"c5","v":-0.106,"k":0,"c":1},{"f":"c5","v":-0.106,"k":1,"c":1},
{"f":"c5","v":-0.098,"k":0,"c":1},
{"f":"c5","v":-0.090,"k":-1,"c":1},{"f":"c5","v":-0.090,"k":0,"c":1},{"f":"c5","v":-0.090,"k":1,"c":1},
{"f":"c5","v":-0.082,"k":-1,"c":1},{"f":"c5","v":-0.082,"k":0,"c":1},{"f":"c5","v":-0.082,"k":1,"c":1},
{"f":"c5","v":-0.074,"k":-1,"c":1},{"f":"c5","v":-0.074,"k":0,"c":1},{"f":"c5","v":-0.074,"k":1,"c":1},
{"f":"c5","v":-0.066,"k":-2,"c":1},{"f":"c5","v":-0.066,"k":-1,"c":1},{"f":"c5","v":-0.066,"k":0,"c":1},{"f":"c5","v":-0.066,"k":1,"c":1},{"f":"c5","v":-0.066,"k":2,"c":1},
{"f":"c5","v":-0.058,"k":-2,"c":1},{"f":"c5","v":-0.058,"k":-1,"c":1},{"f":"c5","v":-0.058,"k":0,"c":1},{"f":"c5","v":-0.058,"k":1,"c":1},{"f":"c5","v":-0.058,"k":2,"c":1},
{"f":"c5","v":-0.050,"k":-3,"c":1},{"f":"c5","v":-0.050,"k":-2,"c":1},{"f":"c5","v":-0.050,"k":-1,"c":1},{"f":"c5","v":-0.050,"k":0,"c":1},{"f":"c5","v":-0.050,"k":1,"c":1},{"f":"c5","v":-0.050,"k":2,"c":1},{"f":"c5","v":-0.050,"k":3,"c":1},
{"f":"c5","v":-0.042,"k":-3,"c":1},{"f":"c5","v":-0.042,"k":-2,"c":1},{"f":"c5","v":-0.042,"k":-1,"c":1},{"f":"c5","v":-0.042,"k":0,"c":1},{"f":"c5","v":-0.042,"k":1,"c":1},{"f":"c5","v":-0.042,"k":2,"c":1},{"f":"c5","v":-0.042,"k":3,"c":1},
{"f":"c5","v":-0.034,"k":-4,"c":1},{"f":"c5","v":-0.034,"k":-3,"c":1},{"f":"c5","v":-0.034,"k":-2,"c":1},{"f":"c5","v":-0.034,"k":-1,"c":1},{"f":"c5","v":-0.034,"k":0,"c":1},{"f":"c5","v":-0.034,"k":1,"c":1},{"f":"c5","v":-0.034,"k":2,"c":1},{"f":"c5","v":-0.034,"k":3,"c":1},{"f":"c5","v":-0.034,"k":4,"c":1},
{"f":"c5","v":-0.026,"k":-5,"c":1},{"f":"c5","v":-0.026,"k":-4,"c":1},{"f":"c5","v":-0.026,"k":-3,"c":1},{"f":"c5","v":-0.026,"k":-2,"c":1},{"f":"c5","v":-0.026,"k":-1,"c":1},{"f":"c5","v":-0.026,"k":0,"c":1},{"f":"c5","v":-0.026,"k":1,"c":1},{"f":"c5","v":-0.026,"k":2,"c":1},{"f":"c5","v":-0.026,"k":3,"c":1},{"f":"c5","v":-0.026,"k":4,"c":1},{"f":"c5","v":-0.026,"k":5,"c":1},
{"f":"c5","v":-0.018,"k":-5,"c":1},{"f":"c5","v":-0.018,"k":-4,"c":1},{"f":"c5","v":-0.018,"k":-3,"c":1},{"f":"c5","v":-0.018,"k":-2,"c":1},{"f":"c5","v":-0.018,"k":-1,"c":1},{"f":"c5","v":-0.018,"k":0,"c":1},{"f":"c5","v":-0.018,"k":1,"c":1},{"f":"c5","v":-0.018,"k":2,"c":1},{"f":"c5","v":-0.018,"k":3,"c":1},{"f":"c5","v":-0.018,"k":4,"c":1},{"f":"c5","v":-0.018,"k":5,"c":1},
{"f":"c5","v":-0.010,"k":-5,"c":1},{"f":"c5","v":-0.010,"k":-4,"c":1},{"f":"c5","v":-0.010,"k":-3,"c":1},{"f":"c5","v":-0.010,"k":-2,"c":1},{"f":"c5","v":-0.010,"k":-1,"c":1},{"f":"c5","v":-0.010,"k":0,"c":1},{"f":"c5","v":-0.010,"k":1,"c":1},{"f":"c5","v":-0.010,"k":2,"c":1},{"f":"c5","v":-0.010,"k":3,"c":1},{"f":"c5","v":-0.010,"k":4,"c":1},{"f":"c5","v":-0.010,"k":5,"c":1},
{"f":"c5","v":-0.004,"k":-3,"c":1},{"f":"c5","v":-0.004,"k":-2,"c":1},{"f":"c5","v":-0.004,"k":-1,"c":1},{"f":"c5","v":-0.004,"k":0,"c":1},{"f":"c5","v":-0.004,"k":1,"c":1},{"f":"c5","v":-0.004,"k":2,"c":1},{"f":"c5","v":-0.004,"k":3,"c":1},
{"f":"c5","v":0.004,"k":-3,"c":0},{"f":"c5","v":0.004,"k":-2,"c":0},{"f":"c5","v":0.004,"k":-1,"c":0},{"f":"c5","v":0.004,"k":0,"c":0},{"f":"c5","v":0.004,"k":1,"c":0},{"f":"c5","v":0.004,"k":2,"c":0},{"f":"c5","v":0.004,"k":3,"c":0},
{"f":"c5","v":0.012,"k":-3,"c":0},{"f":"c5","v":0.012,"k":-2,"c":0},{"f":"c5","v":0.012,"k":-1,"c":0},{"f":"c5","v":0.012,"k":0,"c":0},{"f":"c5","v":0.012,"k":1,"c":0},{"f":"c5","v":0.012,"k":2,"c":0},{"f":"c5","v":0.012,"k":3,"c":0},
{"f":"c5","v":0.020,"k":-4,"c":0},{"f":"c5","v":0.020,"k":-3,"c":0},{"f":"c5","v":0.020,"k":-2,"c":0},{"f":"c5","v":0.020,"k":-1,"c":0},{"f":"c5","v":0.020,"k":0,"c":0},{"f":"c5","v":0.020,"k":1,"c":0},{"f":"c5","v":0.020,"k":2,"c":0},{"f":"c5","v":0.020,"k":3,"c":0},{"f":"c5","v":0.020,"k":4,"c":0},
{"f":"c5","v":0.027,"k":-5,"c":0},{"f":"c5","v":0.027,"k":-4,"c":0},{"f":"c5","v":0.027,"k":-3,"c":0},{"f":"c5","v":0.027,"k":-2,"c":0},{"f":"c5","v":0.027,"k":-1,"c":0},{"f":"c5","v":0.027,"k":0,"c":0},{"f":"c5","v":0.027,"k":1,"c":0},{"f":"c5","v":0.027,"k":2,"c":0},{"f":"c5","v":0.027,"k":3,"c":0},{"f":"c5","v":0.027,"k":4,"c":0},{"f":"c5","v":0.027,"k":5,"c":0},
{"f":"c5","v":0.034,"k":-6,"c":0},{"f":"c5","v":0.034,"k":-5,"c":0},{"f":"c5","v":0.034,"k":-4,"c":0},{"f":"c5","v":0.034,"k":-3,"c":0},{"f":"c5","v":0.034,"k":-2,"c":0},{"f":"c5","v":0.034,"k":-1,"c":0},{"f":"c5","v":0.034,"k":0,"c":0},{"f":"c5","v":0.034,"k":1,"c":0},{"f":"c5","v":0.034,"k":2,"c":0},{"f":"c5","v":0.034,"k":3,"c":0},{"f":"c5","v":0.034,"k":4,"c":0},{"f":"c5","v":0.034,"k":5,"c":0},{"f":"c5","v":0.034,"k":6,"c":0},
{"f":"c5","v":0.041,"k":-5,"c":0},{"f":"c5","v":0.041,"k":-4,"c":0},{"f":"c5","v":0.041,"k":-3,"c":0},{"f":"c5","v":0.041,"k":-2,"c":0},{"f":"c5","v":0.041,"k":-1,"c":0},{"f":"c5","v":0.041,"k":0,"c":0},{"f":"c5","v":0.041,"k":1,"c":0},{"f":"c5","v":0.041,"k":2,"c":0},{"f":"c5","v":0.041,"k":3,"c":0},{"f":"c5","v":0.041,"k":4,"c":0},{"f":"c5","v":0.041,"k":5,"c":0},
{"f":"c5","v":0.048,"k":-3,"c":0},{"f":"c5","v":0.048,"k":-2,"c":0},{"f":"c5","v":0.048,"k":-1,"c":0},{"f":"c5","v":0.048,"k":0,"c":0},{"f":"c5","v":0.048,"k":1,"c":0},{"f":"c5","v":0.048,"k":2,"c":0},{"f":"c5","v":0.048,"k":3,"c":0},
{"f":"c5","v":0.056,"k":-2,"c":0},{"f":"c5","v":0.056,"k":-1,"c":0},{"f":"c5","v":0.056,"k":0,"c":0},{"f":"c5","v":0.056,"k":1,"c":0},{"f":"c5","v":0.056,"k":2,"c":0},
{"f":"c5","v":0.064,"k":-1,"c":0},{"f":"c5","v":0.064,"k":0,"c":0},{"f":"c5","v":0.064,"k":1,"c":0},
{"f":"c5","v":0.072,"k":0,"c":0},{"f":"c5","v":0.132,"k":0,"c":0},
{"f":"c6","v":-0.086,"k":0,"c":0.05},
{"f":"c6","v":-0.078,"k":-1,"c":0.1},{"f":"c6","v":-0.078,"k":0,"c":0.1},{"f":"c6","v":-0.078,"k":1,"c":0.1},
{"f":"c6","v":-0.070,"k":-3,"c":0.1},{"f":"c6","v":-0.070,"k":-2,"c":0.1},{"f":"c6","v":-0.070,"k":-1,"c":0.1},{"f":"c6","v":-0.070,"k":0,"c":0.1},{"f":"c6","v":-0.070,"k":1,"c":0.1},{"f":"c6","v":-0.070,"k":2,"c":0.1},{"f":"c6","v":-0.070,"k":3,"c":0.1},
{"f":"c6","v":-0.062,"k":-4,"c":0.12},{"f":"c6","v":-0.062,"k":-3,"c":0.12},{"f":"c6","v":-0.062,"k":-2,"c":0.12},{"f":"c6","v":-0.062,"k":-1,"c":0.12},{"f":"c6","v":-0.062,"k":0,"c":0.12},{"f":"c6","v":-0.062,"k":1,"c":0.12},{"f":"c6","v":-0.062,"k":2,"c":0.12},{"f":"c6","v":-0.062,"k":3,"c":0.12},{"f":"c6","v":-0.062,"k":4,"c":0.12},
{"f":"c6","v":-0.054,"k":-4,"c":0.15},{"f":"c6","v":-0.054,"k":-3,"c":0.15},{"f":"c6","v":-0.054,"k":-2,"c":0.15},{"f":"c6","v":-0.054,"k":-1,"c":0.15},{"f":"c6","v":-0.054,"k":0,"c":0.15},{"f":"c6","v":-0.054,"k":1,"c":0.15},{"f":"c6","v":-0.054,"k":2,"c":0.15},{"f":"c6","v":-0.054,"k":3,"c":0.15},{"f":"c6","v":-0.054,"k":4,"c":0.15},
{"f":"c6","v":-0.046,"k":-4,"c":0.2},{"f":"c6","v":-0.046,"k":-3,"c":0.2},{"f":"c6","v":-0.046,"k":-2,"c":0.2},{"f":"c6","v":-0.046,"k":-1,"c":0.2},{"f":"c6","v":-0.046,"k":0,"c":0.2},{"f":"c6","v":-0.046,"k":1,"c":0.2},{"f":"c6","v":-0.046,"k":2,"c":0.2},{"f":"c6","v":-0.046,"k":3,"c":0.2},{"f":"c6","v":-0.046,"k":4,"c":0.2},
{"f":"c6","v":-0.038,"k":-3,"c":0.25},{"f":"c6","v":-0.038,"k":-2,"c":0.25},{"f":"c6","v":-0.038,"k":-1,"c":0.25},{"f":"c6","v":-0.038,"k":0,"c":0.25},{"f":"c6","v":-0.038,"k":1,"c":0.25},{"f":"c6","v":-0.038,"k":2,"c":0.25},{"f":"c6","v":-0.038,"k":3,"c":0.25},
{"f":"c6","v":-0.030,"k":-3,"c":0.3},{"f":"c6","v":-0.030,"k":-2,"c":0.3},{"f":"c6","v":-0.030,"k":-1,"c":0.3},{"f":"c6","v":-0.030,"k":0,"c":0.3},{"f":"c6","v":-0.030,"k":1,"c":0.3},{"f":"c6","v":-0.030,"k":2,"c":0.3},{"f":"c6","v":-0.030,"k":3,"c":0.3},
{"f":"c6","v":-0.022,"k":-4,"c":0.35},{"f":"c6","v":-0.022,"k":-3,"c":0.35},{"f":"c6","v":-0.022,"k":-2,"c":0.35},{"f":"c6","v":-0.022,"k":-1,"c":0.35},{"f":"c6","v":-0.022,"k":0,"c":0.35},{"f":"c6","v":-0.022,"k":1,"c":0.35},{"f":"c6","v":-0.022,"k":2,"c":0.35},{"f":"c6","v":-0.022,"k":3,"c":0.35},{"f":"c6","v":-0.022,"k":4,"c":0.35},
{"f":"c6","v":-0.014,"k":-5,"c":0.4},{"f":"c6","v":-0.014,"k":-4,"c":0.4},{"f":"c6","v":-0.014,"k":-3,"c":0.4},{"f":"c6","v":-0.014,"k":-2,"c":0.4},{"f":"c6","v":-0.014,"k":-1,"c":0.4},{"f":"c6","v":-0.014,"k":0,"c":0.4},{"f":"c6","v":-0.014,"k":1,"c":0.4},{"f":"c6","v":-0.014,"k":2,"c":0.4},{"f":"c6","v":-0.014,"k":3,"c":0.4},{"f":"c6","v":-0.014,"k":4,"c":0.4},{"f":"c6","v":-0.014,"k":5,"c":0.4},
{"f":"c6","v":-0.006,"k":-5,"c":0.45},{"f":"c6","v":-0.006,"k":-4,"c":0.45},{"f":"c6","v":-0.006,"k":-3,"c":0.45},{"f":"c6","v":-0.006,"k":-2,"c":0.45},{"f":"c6","v":-0.006,"k":-1,"c":0.45},{"f":"c6","v":-0.006,"k":0,"c":0.45},{"f":"c6","v":-0.006,"k":1,"c":0.45},{"f":"c6","v":-0.006,"k":2,"c":0.45},{"f":"c6","v":-0.006,"k":3,"c":0.45},{"f":"c6","v":-0.006,"k":4,"c":0.45},{"f":"c6","v":-0.006,"k":5,"c":0.45},
{"f":"c6","v":0.002,"k":-4,"c":0.5},{"f":"c6","v":0.002,"k":-3,"c":0.5},{"f":"c6","v":0.002,"k":-2,"c":0.5},{"f":"c6","v":0.002,"k":-1,"c":0.5},{"f":"c6","v":0.002,"k":0,"c":0.5},{"f":"c6","v":0.002,"k":1,"c":0.5},{"f":"c6","v":0.002,"k":2,"c":0.5},{"f":"c6","v":0.002,"k":3,"c":0.5},{"f":"c6","v":0.002,"k":4,"c":0.5},
{"f":"c6","v":0.010,"k":-4,"c":0.55},{"f":"c6","v":0.010,"k":-3,"c":0.55},{"f":"c6","v":0.010,"k":-2,"c":0.55},{"f":"c6","v":0.010,"k":-1,"c":0.55},{"f":"c6","v":0.010,"k":0,"c":0.55},{"f":"c6","v":0.010,"k":1,"c":0.55},{"f":"c6","v":0.010,"k":2,"c":0.55},{"f":"c6","v":0.010,"k":3,"c":0.55},{"f":"c6","v":0.010,"k":4,"c":0.55},
{"f":"c6","v":0.018,"k":-3,"c":0.6},{"f":"c6","v":0.018,"k":-2,"c":0.6},{"f":"c6","v":0.018,"k":-1,"c":0.6},{"f":"c6","v":0.018,"k":0,"c":0.6},{"f":"c6","v":0.018,"k":1,"c":0.6},{"f":"c6","v":0.018,"k":2,"c":0.6},{"f":"c6","v":0.018,"k":3,"c":0.6},
{"f":"c6","v":0.026,"k":-4,"c":0.7},{"f":"c6","v":0.026,"k":-3,"c":0.7},{"f":"c6","v":0.026,"k":-2,"c":0.7},{"f":"c6","v":0.026,"k":-1,"c":0.7},{"f":"c6","v":0.026,"k":0,"c":0.7},{"f":"c6","v":0.026,"k":1,"c":0.7},{"f":"c6","v":0.026,"k":2,"c":0.7},{"f":"c6","v":0.026,"k":3,"c":0.7},{"f":"c6","v":0.026,"k":4,"c":0.7},
{"f":"c6","v":0.034,"k":-5,"c":0.8},{"f":"c6","v":0.034,"k":-4,"c":0.8},{"f":"c6","v":0.034,"k":-3,"c":0.8},{"f":"c6","v":0.034,"k":-2,"c":0.8},{"f":"c6","v":0.034,"k":-1,"c":0.8},{"f":"c6","v":0.034,"k":0,"c":0.8},{"f":"c6","v":0.034,"k":1,"c":0.8},{"f":"c6","v":0.034,"k":2,"c":0.8},{"f":"c6","v":0.034,"k":3,"c":0.8},{"f":"c6","v":0.034,"k":4,"c":0.8},{"f":"c6","v":0.034,"k":5,"c":0.8},
{"f":"c6","v":0.042,"k":-3,"c":0.85},{"f":"c6","v":0.042,"k":-2,"c":0.85},{"f":"c6","v":0.042,"k":-1,"c":0.85},{"f":"c6","v":0.042,"k":0,"c":0.85},{"f":"c6","v":0.042,"k":1,"c":0.85},{"f":"c6","v":0.042,"k":2,"c":0.85},{"f":"c6","v":0.042,"k":3,"c":0.85},
{"f":"c6","v":0.050,"k":-2,"c":0.9},{"f":"c6","v":0.050,"k":-1,"c":0.9},{"f":"c6","v":0.050,"k":0,"c":0.9},{"f":"c6","v":0.050,"k":1,"c":0.9},{"f":"c6","v":0.050,"k":2,"c":0.9},
{"f":"c6","v":0.058,"k":-2,"c":0.9},{"f":"c6","v":0.058,"k":-1,"c":0.9},{"f":"c6","v":0.058,"k":0,"c":0.9},{"f":"c6","v":0.058,"k":1,"c":0.9},{"f":"c6","v":0.058,"k":2,"c":0.9},
{"f":"c6","v":0.066,"k":-1,"c":0.95},{"f":"c6","v":0.066,"k":0,"c":0.95},{"f":"c6","v":0.066,"k":1,"c":0.95},
{"f":"c6","v":0.074,"k":-1,"c":0.95},{"f":"c6","v":0.074,"k":0,"c":0.95},{"f":"c6","v":0.074,"k":1,"c":0.95},
{"f":"c6","v":0.082,"k":-1,"c":1},{"f":"c6","v":0.082,"k":0,"c":1},{"f":"c6","v":0.082,"k":1,"c":1},
{"f":"c6","v":0.090,"k":0,"c":1},{"f":"c6","v":0.098,"k":0,"c":1},
{"f":"c6","v":0.106,"k":-1,"c":1},{"f":"c6","v":0.106,"k":0,"c":1},{"f":"c6","v":0.106,"k":1,"c":1},
{"f":"c6","v":0.114,"k":0,"c":1},{"f":"c6","v":0.122,"k":0,"c":1},{"f":"c6","v":0.130,"k":0,"c":1},{"f":"c6","v":0.140,"k":0,"c":1},{"f":"c6","v":0.150,"k":0,"c":1},{"f":"c6","v":0.160,"k":0,"c":1},{"f":"c6","v":0.215,"k":0,"c":1},
{"f":"c7","v":-0.103,"k":0,"c":0.95},{"f":"c7","v":-0.095,"k":0,"c":1},
{"f":"c7","v":-0.087,"k":-1,"c":1},{"f":"c7","v":-0.087,"k":0,"c":1},{"f":"c7","v":-0.087,"k":1,"c":1},
{"f":"c7","v":-0.079,"k":0,"c":1},
{"f":"c7","v":-0.071,"k":-1,"c":1},{"f":"c7","v":-0.071,"k":0,"c":1},{"f":"c7","v":-0.071,"k":1,"c":1},
{"f":"c7","v":-0.063,"k":-1,"c":1},{"f":"c7","v":-0.063,"k":0,"c":1},{"f":"c7","v":-0.063,"k":1,"c":1},
{"f":"c7","v":-0.055,"k":-2,"c":1},{"f":"c7","v":-0.055,"k":-1,"c":1},{"f":"c7","v":-0.055,"k":0,"c":1},{"f":"c7","v":-0.055,"k":1,"c":1},{"f":"c7","v":-0.055,"k":2,"c":1},
{"f":"c7","v":-0.047,"k":-3,"c":1},{"f":"c7","v":-0.047,"k":-2,"c":1},{"f":"c7","v":-0.047,"k":-1,"c":1},{"f":"c7","v":-0.047,"k":0,"c":1},{"f":"c7","v":-0.047,"k":1,"c":1},{"f":"c7","v":-0.047,"k":2,"c":1},{"f":"c7","v":-0.047,"k":3,"c":1},
{"f":"c7","v":-0.039,"k":-5,"c":1},{"f":"c7","v":-0.039,"k":-4,"c":1},{"f":"c7","v":-0.039,"k":-3,"c":1},{"f":"c7","v":-0.039,"k":-2,"c":1},{"f":"c7","v":-0.039,"k":-1,"c":1},{"f":"c7","v":-0.039,"k":0,"c":1},{"f":"c7","v":-0.039,"k":1,"c":1},{"f":"c7","v":-0.039,"k":2,"c":1},{"f":"c7","v":-0.039,"k":3,"c":1},{"f":"c7","v":-0.039,"k":4,"c":1},{"f":"c7","v":-0.039,"k":5,"c":1},
{"f":"c7","v":-0.031,"k":-6,"c":0.95},{"f":"c7","v":-0.031,"k":-5,"c":0.95},{"f":"c7","v":-0.031,"k":-4,"c":0.95},{"f":"c7","v":-0.031,"k":-3,"c":0.95},{"f":"c7","v":-0.031,"k":-2,"c":0.95},{"f":"c7","v":-0.031,"k":-1,"c":0.95},{"f":"c7","v":-0.031,"k":0,"c":0.95},{"f":"c7","v":-0.031,"k":1,"c":0.95},{"f":"c7","v":-0.031,"k":2,"c":0.95},{"f":"c7","v":-0.031,"k":3,"c":0.95},{"f":"c7","v":-0.031,"k":4,"c":0.95},{"f":"c7","v":-0.031,"k":5,"c":0.95},{"f":"c7","v":-0.031,"k":6,"c":0.95},
{"f":"c7","v":-0.023,"k":-5,"c":0.95},{"f":"c7","v":-0.023,"k":-4,"c":0.95},{"f":"c7","v":-0.023,"k":-3,"c":0.95},{"f":"c7","v":-0.023,"k":-2,"c":0.95},{"f":"c7","v":-0.023,"k":-1,"c":0.95},{"f":"c7","v":-0.023,"k":0,"c":0.95},{"f":"c7","v":-0.023,"k":1,"c":0.95},{"f":"c7","v":-0.023,"k":2,"c":0.95},{"f":"c7","v":-0.023,"k":3,"c":0.95},{"f":"c7","v":-0.023,"k":4,"c":0.95},{"f":"c7","v":-0.023,"k":5,"c":0.95},
{"f":"c7","v":-0.015,"k":-4,"c":0.9},{"f":"c7","v":-0.015,"k":-3,"c":0.9},{"f":"c7","v":-0.015,"k":-2,"c":0.9},{"f":"c7","v":-0.015,"k":-1,"c":0.9},{"f":"c7","v":-0.015,"k":0,"c":0.9},{"f":"c7","v":-0.015,"k":1,"c":0.9},{"f":"c7","v":-0.015,"k":2,"c":0.9},{"f":"c7","v":-0.015,"k":3,"c":0.9},{"f":"c7","v":-0.015,"k":4,"c":0.9},
{"f":"c7","v":-0.007,"k":-3,"c":0.85},{"f":"c7","v":-0.007,"k":-2,"c":0.85},{"f":"c7","v":-0.007,"k":-1,"c":0.85},{"f":"c7","v":-0.007,"k":0,"c":0.85},{"f":"c7","v":-0.007,"k":1,"c":0.85},{"f":"c7","v":-0.007,"k":2,"c":0.85},{"f":"c7","v":-0.007,"k":3,"c":0.85},
{"f":"c7","v":0.001,"k":-2,"c":0.75},{"f":"c7","v":0.001,"k":-1,"c":0.75},{"f":"c7","v":0.001,"k":0,"c":0.75},{"f":"c7","v":0.001,"k":1,"c":0.75},{"f":"c7","v":0.001,"k":2,"c":0.75},
{"f":"c7","v":0.009,"k":-2,"c":0.6},{"f":"c7","v":0.009,"k":-1,"c":0.6},{"f":"c7","v":0.009,"k":0,"c":0.6},{"f":"c7","v":0.009,"k":1,"c":0.6},{"f":"c7","v":0.009,"k":2,"c":0.6},
{"f":"c7","v":0.017,"k":-2,"c":0.55},{"f":"c7","v":0.017,"k":-1,"c":0.55},{"f":"c7","v":0.017,"k":0,"c":0.55},{"f":"c7","v":0.017,"k":1,"c":0.55},{"f":"c7","v":0.017,"k":2,"c":0.55},
{"f":"c7","v":0.025,"k":-1,"c":0.5},{"f":"c7","v":0.025,"k":0,"c":0.5},{"f":"c7","v":0.025,"k":1,"c":0.5},
{"f":"c7","v":0.033,"k":-2,"c":0.4},{"f":"c7","v":0.033,"k":-1,"c":0.4},{"f":"c7","v":0.033,"k":0,"c":0.4},{"f":"c7","v":0.033,"k":1,"c":0.4},{"f":"c7","v":0.033,"k":2,"c":0.4},
{"f":"c7","v":0.041,"k":-2,"c":0.2},{"f":"c7","v":0.041,"k":-1,"c":0.2},{"f":"c7","v":0.041,"k":0,"c":0.2},{"f":"c7","v":0.041,"k":1,"c":0.2},{"f":"c7","v":0.041,"k":2,"c":0.2},
{"f":"c7","v":0.049,"k":-1,"c":0.15},{"f":"c7","v":0.049,"k":0,"c":0.15},{"f":"c7","v":0.049,"k":1,"c":0.15},
{"f":"c7","v":0.057,"k":-2,"c":0.1},{"f":"c7","v":0.057,"k":-1,"c":0.1},{"f":"c7","v":0.057,"k":0,"c":0.1},{"f":"c7","v":0.057,"k":1,"c":0.1},{"f":"c7","v":0.057,"k":2,"c":0.1},
{"f":"c7","v":0.065,"k":-1,"c":0.1},{"f":"c7","v":0.065,"k":0,"c":0.1},{"f":"c7","v":0.065,"k":1,"c":0.1},
{"f":"c7","v":0.073,"k":-1,"c":0.12},{"f":"c7","v":0.073,"k":0,"c":0.12},{"f":"c7","v":0.073,"k":1,"c":0.12},
{"f":"c7","v":0.084,"k":1,"c":0.5},{"f":"c7","v":0.090,"k":0,"c":0.15},{"f":"c7","v":0.104,"k":0,"c":0.45},{"f":"c7","v":0.155,"k":0,"c":0.1},
{"f":"c8","v":-0.103,"k":0,"c":0.05},
{"f":"c8","v":-0.063,"k":-1,"c":0.1},{"f":"c8","v":-0.063,"k":0,"c":0.1},{"f":"c8","v":-0.063,"k":1,"c":0.1},
{"f":"c8","v":-0.055,"k":-2,"c":0.1},{"f":"c8","v":-0.055,"k":-1,"c":0.1},{"f":"c8","v":-0.055,"k":0,"c":0.1},{"f":"c8","v":-0.055,"k":1,"c":0.1},{"f":"c8","v":-0.055,"k":2,"c":0.1},
{"f":"c8","v":-0.047,"k":-3,"c":0.12},{"f":"c8","v":-0.047,"k":-2,"c":0.12},{"f":"c8","v":-0.047,"k":-1,"c":0.12},{"f":"c8","v":-0.047,"k":0,"c":0.12},{"f":"c8","v":-0.047,"k":1,"c":0.12},{"f":"c8","v":-0.047,"k":2,"c":0.12},{"f":"c8","v":-0.047,"k":3,"c":0.12},
{"f":"c8","v":-0.039,"k":-4,"c":0.15},{"f":"c8","v":-0.039,"k":-3,"c":0.15},{"f":"c8","v":-0.039,"k":-2,"c":0.15},{"f":"c8","v":-0.039,"k":-1,"c":0.15},{"f":"c8","v":-0.039,"k":0,"c":0.15},{"f":"c8","v":-0.039,"k":1,"c":0.15},{"f":"c8","v":-0.039,"k":2,"c":0.15},{"f":"c8","v":-0.039,"k":3,"c":0.15},{"f":"c8","v":-0.039,"k":4,"c":0.15},
{"f":"c8","v":-0.031,"k":-6,"c":0.15},{"f":"c8","v":-0.031,"k":-5,"c":0.15},{"f":"c8","v":-0.031,"k":-4,"c":0.15},{"f":"c8","v":-0.031,"k":-3,"c":0.15},{"f":"c8","v":-0.031,"k":-2,"c":0.15},{"f":"c8","v":-0.031,"k":-1,"c":0.15},{"f":"c8","v":-0.031,"k":0,"c":0.15},{"f":"c8","v":-0.031,"k":1,"c":0.15},{"f":"c8","v":-0.031,"k":2,"c":0.15},{"f":"c8","v":-0.031,"k":3,"c":0.15},{"f":"c8","v":-0.031,"k":4,"c":0.15},{"f":"c8","v":-0.031,"k":5,"c":0.15},{"f":"c8","v":-0.031,"k":6,"c":0.15},
{"f":"c8","v":-0.023,"k":-5,"c":0.18},{"f":"c8","v":-0.023,"k":-4,"c":0.18},{"f":"c8","v":-0.023,"k":-3,"c":0.18},{"f":"c8","v":-0.023,"k":-2,"c":0.18},{"f":"c8","v":-0.023,"k":-1,"c":0.18},{"f":"c8","v":-0.023,"k":0,"c":0.18},{"f":"c8","v":-0.023,"k":1,"c":0.18},{"f":"c8","v":-0.023,"k":2,"c":0.18},{"f":"c8","v":-0.023,"k":3,"c":0.18},{"f":"c8","v":-0.023,"k":4,"c":0.18},{"f":"c8","v":-0.023,"k":5,"c":0.18},
{"f":"c8","v":-0.015,"k":-5,"c":0.2},{"f":"c8","v":-0.015,"k":-4,"c":0.2},{"f":"c8","v":-0.015,"k":-3,"c":0.2},{"f":"c8","v":-0.015,"k":-2,"c":0.2},{"f":"c8","v":-0.015,"k":-1,"c":0.2},{"f":"c8","v":-0.015,"k":0,"c":0.2},{"f":"c8","v":-0.015,"k":1,"c":0.2},{"f":"c8","v":-0.015,"k":2,"c":0.2},{"f":"c8","v":-0.015,"k":3,"c":0.2},{"f":"c8","v":-0.015,"k":4,"c":0.2},{"f":"c8","v":-0.015,"k":5,"c":0.2},
{"f":"c8","v":-0.007,"k":-4,"c":0.25},{"f":"c8","v":-0.007,"k":-3,"c":0.25},{"f":"c8","v":-0.007,"k":-2,"c":0.25},{"f":"c8","v":-0.007,"k":-1,"c":0.25},{"f":"c8","v":-0.007,"k":0,"c":0.25},{"f":"c8","v":-0.007,"k":1,"c":0.25},{"f":"c8","v":-0.007,"k":2,"c":0.25},{"f":"c8","v":-0.007,"k":3,"c":0.25},{"f":"c8","v":-0.007,"k":4,"c":0.25},
{"f":"c8","v":0.001,"k":-4,"c":0.3},{"f":"c8","v":0.001,"k":-3,"c":0.3},{"f":"c8","v":0.001,"k":-2,"c":0.3},{"f":"c8","v":0.001,"k":-1,"c":0.3},{"f":"c8","v":0.001,"k":0,"c":0.3},{"f":"c8","v":0.001,"k":1,"c":0.3},{"f":"c8","v":0.001,"k":2,"c":0.3},{"f":"c8","v":0.001,"k":3,"c":0.3},{"f":"c8","v":0.001,"k":4,"c":0.3},
{"f":"c8","v":0.009,"k":-4,"c":0.45},{"f":"c8","v":0.009,"k":-3,"c":0.45},{"f":"c8","v":0.009,"k":-2,"c":0.45},{"f":"c8","v":0.009,"k":-1,"c":0.45},{"f":"c8","v":0.009,"k":0,"c":0.45},{"f":"c8","v":0.009,"k":1,"c":0.45},{"f":"c8","v":0.009,"k":2,"c":0.45},{"f":"c8","v":0.009,"k":3,"c":0.45},{"f":"c8","v":0.009,"k":4,"c":0.45},
{"f":"c8","v":0.017,"k":-3,"c":0.5},{"f":"c8","v":0.017,"k":-2,"c":0.5},{"f":"c8","v":0.017,"k":-1,"c":0.5},{"f":"c8","v":0.017,"k":0,"c":0.5},{"f":"c8","v":0.017,"k":1,"c":0.5},{"f":"c8","v":0.017,"k":2,"c":0.5},{"f":"c8","v":0.017,"k":3,"c":0.5},
{"f":"c8","v":0.025,"k":-3,"c":0.55},{"f":"c8","v":0.025,"k":-2,"c":0.55},{"f":"c8","v":0.025,"k":-1,"c":0.55},{"f":"c8","v":0.025,"k":0,"c":0.55},{"f":"c8","v":0.025,"k":1,"c":0.55},{"f":"c8","v":0.025,"k":2,"c":0.55},{"f":"c8","v":0.025,"k":3,"c":0.55},
{"f":"c8","v":0.033,"k":-2,"c":0.6},{"f":"c8","v":0.033,"k":-1,"c":0.6},{"f":"c8","v":0.033,"k":0,"c":0.6},{"f":"c8","v":0.033,"k":1,"c":0.6},{"f":"c8","v":0.033,"k":2,"c":0.6},
{"f":"c8","v":0.041,"k":-2,"c":0.7},{"f":"c8","v":0.041,"k":-1,"c":0.7},{"f":"c8","v":0.041,"k":0,"c":0.7},{"f":"c8","v":0.041,"k":1,"c":0.7},{"f":"c8","v":0.041,"k":2,"c":0.7},
{"f":"c8","v":0.049,"k":-2,"c":0.9},{"f":"c8","v":0.049,"k":-1,"c":0.9},{"f":"c8","v":0.049,"k":0,"c":0.9},{"f":"c8","v":0.049,"k":1,"c":0.9},{"f":"c8","v":0.049,"k":2,"c":0.9},
{"f":"c8","v":0.057,"k":-2,"c":1},{"f":"c8","v":0.057,"k":-1,"c":1},{"f":"c8","v":0.057,"k":0,"c":1},{"f":"c8","v":0.057,"k":1,"c":1},{"f":"c8","v":0.057,"k":2,"c":1},
{"f":"c8","v":0.065,"k":-1,"c":1},{"f":"c8","v":0.065,"k":0,"c":1},{"f":"c8","v":0.065,"k":1,"c":1},
{"f":"c8","v":0.073,"k":-1,"c":1},{"f":"c8","v":0.073,"k":0,"c":1},{"f":"c8","v":0.073,"k":1,"c":1},
{"f":"c8","v":0.081,"k":-1,"c":0.9},{"f":"c8","v":0.081,"k":0,"c":0.9},{"f":"c8","v":0.081,"k":1,"c":0.9},
{"f":"c8","v":0.089,"k":0,"c":0.8},{"f":"c8","v":0.098,"k":0,"c":0.5},{"f":"c8","v":0.164,"k":0,"c":0.7},{"f":"c8","v":0.200,"k":0,"c":0.95}
 ]},
 "mark":{"type":"circle","size":28,"opacity":0.95},
 "encoding":{
  "x":{"field":"v","type":"quantitative","scale":{"domain":[-0.3793,0.6793],"nice":false,"zero":false},
       "axis":{"values":[-0.2,0,0.2,0.4,0.6],"format":".1f","domainColor":"#333333","tickColor":"#333333","tickSize":5,"labelFont":"DejaVu Sans","labelFontSize":15,"labelColor":"#444444","labelPadding":3,"title":null,"grid":true,"gridWidth":1.8,"gridColor":{"condition":{"test":"datum.value === 0","value":"#9a9a9a"},"value":"transparent"}}},
  "y":{"field":"f","type":"nominal","scale":{"type":"point","padding":0.966,"align":0.485},"axis":{"domain":false,"ticks":false,"labels":false,"title":null,"grid":true,"gridColor":"#e4e4e4","gridDash":[2,2]}},
  "yOffset":{"field":"k","type":"quantitative","scale":{"domain":[-10,10],"range":[-30,30]}},
  "color":{"field":"c","type":"quantitative","scale":{"domain":[0,0.5,1],"range":["#3b87ec","#8843c6","#e8305a"]},"legend":null}}
},
{
 "width":433,"height":547,
 "layer":[
  {"data":{"values":[
{"t":"Gray Matter FA in R lateral orbital","u":0.762},
{"t":"frontal ROI","u":1.333},
{"t":"Cortical area of L inferior parietal ROI","u":5.095}
   ]},
   "mark":{"type":"text","align":"left","baseline":"middle","font":"Liberation Sans","fontWeight":"bold","fontSize":22,"color":"black"},
   "encoding":{
    "x":{"datum":0,"type":"quantitative","scale":{"domain":[-0.04,1],"nice":false,"zero":false},"axis":{"orient":"top","domainColor":"black","ticks":false,"labels":false,"grid":false,"title":null}},
    "y":{"field":"u","type":"quantitative","scale":{"domain":[-1.4286,11.595],"reverse":true,"nice":false,"zero":false},"axis":{"orient":"left","domainColor":"black","ticks":false,"labels":false,"grid":false,"title":null}},
    "text":{"field":"t"}}},
  {"data":{"values":[{"t":"d.","u":-1.595}]},
   "mark":{"type":"text","align":"left","baseline":"alphabetic","font":"Liberation Sans","fontStyle":"italic","fontSize":24,"color":"black"},
   "encoding":{
    "x":{"datum":0,"type":"quantitative"},
    "y":{"field":"u","type":"quantitative","axis":{"orient":"right","domainColor":"black","ticks":false,"labels":false,"grid":false,"title":null}},
    "text":{"field":"t"}}}
 ],
 "resolve":{"axis":{"y":"independent"}}
},
{
 "width":272,"height":539,
 "data":{"values":[
{"f":"d1","v":-0.0685,"k":-21,"c":0.05},
{"f":"d1","v":-0.0716,"k":-18,"c":0.05},{"f":"d1","v":-0.0593,"k":-18,"c":0.1},
{"f":"d1","v":-0.0685,"k":-15,"c":0.05},{"f":"d1","v":-0.0562,"k":-15,"c":0.1},
{"f":"d1","v":-0.0716,"k":-12,"c":0.05},{"f":"d1","v":-0.0562,"k":-12,"c":0.1},{"f":"d1","v":-0.0500,"k":-12,"c":0.15},
{"f":"d1","v":-0.0747,"k":-9,"c":0.05},{"f":"d1","v":-0.0623,"k":-9,"c":0.1},{"f":"d1","v":-0.0500,"k":-9,"c":0.15},{"f":"d1","v":-0.0438,"k":-9,"c":0.2},
{"f":"d1","v":-0.0809,"k":-6,"c":0.05},{"f":"d1","v":-0.0685,"k":-6,"c":0.1},{"f":"d1","v":-0.0562,"k":-6,"c":0.15},{"f":"d1","v":-0.0438,"k":-6,"c":0.25},{"f":"d1","v":-0.0191,"k":-6,"c":0.4},{"f":"d1","v":0.0025,"k":-6,"c":0.45},
{"f":"d1","v":-0.0932,"k":-3,"c":0.05},{"f":"d1","v":-0.0809,"k":-3,"c":0.08},{"f":"d1","v":-0.0685,"k":-3,"c":0.1},{"f":"d1","v":-0.0562,"k":-3,"c":0.15},{"f":"d1","v":-0.0438,"k":-3,"c":0.2},{"f":"d1","v":-0.0315,"k":-3,"c":0.3},{"f":"d1","v":-0.0191,"k":-3,"c":0.35},{"f":"d1","v":-0.0068,"k":-3,"c":0.4},{"f":"d1","v":0.0025,"k":-3,"c":0.42},{"f":"d1","v":0.0148,"k":-3,"c":0.45},{"f":"d1","v":0.0889,"k":-3,"c":0.62},{"f":"d1","v":0.1599,"k":-3,"c":0.72},{"f":"d1","v":0.2247,"k":-3,"c":0.88},{"f":"d1","v":0.2370,"k":-3,"c":0.9},{"f":"d1","v":0.2494,"k":-3,"c":0.9},{"f":"d1","v":0.3560,"k":-3,"c":1},
{"f":"d1","v":-0.0994,"k":0,"c":0.02},{"f":"d1","v":-0.0870,"k":0,"c":0.05},{"f":"d1","v":-0.0747,"k":0,"c":0.08},{"f":"d1","v":-0.0623,"k":0,"c":0.12},{"f":"d1","v":-0.0500,"k":0,"c":0.18},{"f":"d1","v":-0.0376,"k":0,"c":0.25},{"f":"d1","v":-0.0253,"k":0,"c":0.3},{"f":"d1","v":-0.0130,"k":0,"c":0.35},{"f":"d1","v":-0.0007,"k":0,"c":0.4},{"f":"d1","v":0.0117,"k":0,"c":0.42},{"f":"d1","v":0.0210,"k":0,"c":0.45},{"f":"d1","v":0.0426,"k":0,"c":0.5},{"f":"d1","v":0.0519,"k":0,"c":0.52},{"f":"d1","v":0.0889,"k":0,"c":0.62},{"f":"d1","v":0.0981,"k":0,"c":0.64},{"f":"d1","v":0.1105,"k":0,"c":0.66},{"f":"d1","v":0.1444,"k":0,"c":0.7},{"f":"d1","v":0.1599,"k":0,"c":0.72},{"f":"d1","v":0.1722,"k":0,"c":0.75},{"f":"d1","v":0.1877,"k":0,"c":0.8},{"f":"d1","v":0.2093,"k":0,"c":0.85},{"f":"d1","v":0.2185,"k":0,"c":0.87},{"f":"d1","v":0.2278,"k":0,"c":0.88},{"f":"d1","v":0.2370,"k":0,"c":0.9},{"f":"d1","v":0.2494,"k":0,"c":0.92},{"f":"d1","v":0.3111,"k":0,"c":0.95},{"f":"d1","v":0.3204,"k":0,"c":0.96},{"f":"d1","v":0.3296,"k":0,"c":0.97},{"f":"d1","v":0.3560,"k":0,"c":1},
{"f":"d1","v":-0.0840,"k":3,"c":0.05},{"f":"d1","v":-0.0716,"k":3,"c":0.1},{"f":"d1","v":-0.0593,"k":3,"c":0.12},{"f":"d1","v":-0.0469,"k":3,"c":0.2},{"f":"d1","v":-0.0160,"k":3,"c":0.38},{"f":"d1","v":-0.0037,"k":3,"c":0.4},{"f":"d1","v":0.0056,"k":3,"c":0.42},{"f":"d1","v":0.0179,"k":3,"c":0.45},{"f":"d1","v":0.0951,"k":3,"c":0.64},{"f":"d1","v":0.2370,"k":3,"c":0.9},{"f":"d1","v":0.3560,"k":3,"c":1},
{"f":"d1","v":-0.0716,"k":6,"c":0.05},{"f":"d1","v":-0.0593,"k":6,"c":0.1},{"f":"d1","v":-0.0469,"k":6,"c":0.2},{"f":"d1","v":-0.0160,"k":6,"c":0.4},
{"f":"d1","v":-0.0685,"k":9,"c":0.05},{"f":"d1","v":-0.0531,"k":9,"c":0.15},
{"f":"d1","v":-0.0716,"k":12,"c":0.05},{"f":"d1","v":-0.0531,"k":12,"c":0.12},
{"f":"d1","v":-0.0685,"k":15,"c":0.05},{"f":"d1","v":-0.0531,"k":15,"c":0.1},
{"f":"d1","v":-0.0685,"k":18,"c":0.05},
{"f":"d2","v":-0.0049,"k":-18,"c":0.45},
{"f":"d2","v":-0.0160,"k":-12,"c":0.1},{"f":"d2","v":-0.0037,"k":-12,"c":0.4},{"f":"d2","v":0.0086,"k":-12,"c":0.55},{"f":"d2","v":0.0198,"k":-12,"c":0.9},
{"f":"d2","v":-0.0284,"k":-6,"c":0.1},{"f":"d2","v":-0.0191,"k":-6,"c":0.15},{"f":"d2","v":-0.0037,"k":-6,"c":0.4},{"f":"d2","v":0.0086,"k":-6,"c":0.5},{"f":"d2","v":0.0210,"k":-6,"c":0.65},{"f":"d2","v":0.0309,"k":-6,"c":0.75},
{"f":"d2","v":-0.0407,"k":0,"c":0.05},{"f":"d2","v":-0.0315,"k":0,"c":0.1},{"f":"d2","v":-0.0191,"k":0,"c":0.15},{"f":"d2","v":-0.0068,"k":0,"c":0.4},{"f":"d2","v":0.0025,"k":0,"c":0.6},{"f":"d2","v":0.0148,"k":0,"c":0.85},{"f":"d2","v":0.0241,"k":0,"c":0.9},{"f":"d2","v":0.0333,"k":0,"c":0.9},{"f":"d2","v":0.0426,"k":0,"c":0.85},{"f":"d2","v":0.0519,"k":0,"c":0.9},{"f":"d2","v":0.0580,"k":0,"c":0.95},{"f":"d2","v":0.0765,"k":0,"c":0.95},
{"f":"d2","v":-0.0160,"k":6,"c":0.15},{"f":"d2","v":-0.0037,"k":6,"c":0.45},{"f":"d2","v":0.0086,"k":6,"c":0.55},{"f":"d2","v":0.0179,"k":6,"c":0.75},
{"f":"d2","v":-0.0111,"k":12,"c":0.2},{"f":"d2","v":0.0025,"k":12,"c":0.45}
 ]},
 "mark":{"type":"circle","size":40,"opacity":0.95},
 "encoding":{
  "x":{"field":"v","type":"quantitative","scale":{"domain":[-0.14259,0.36111],"nice":false,"zero":false},
       "axis":{"values":[0,0.2],"labels":false,"domainColor":"#333333","tickColor":"#333333","tickSize":6,"title":null,"grid":true,"gridWidth":2,"gridColor":{"condition":{"test":"datum.value === 0","value":"#9a9a9a"},"value":"transparent"}}},
  "y":{"field":"f","type":"nominal","scale":{"type":"point","padding":0.804,"align":0.388},"axis":{"domain":false,"ticks":false,"labels":false,"title":null,"grid":true,"gridColor":"#d8d8d8","gridDash":[2,3]}},
  "yOffset":{"field":"k","type":"quantitative","scale":{"domain":[-10,10],"range":[-30,30]}},
  "color":{"field":"c","type":"quantitative","scale":{"domain":[0,0.5,1],"range":["#3b87ec","#8843c6","#e8305a"]},"legend":null}}
}
]
}
